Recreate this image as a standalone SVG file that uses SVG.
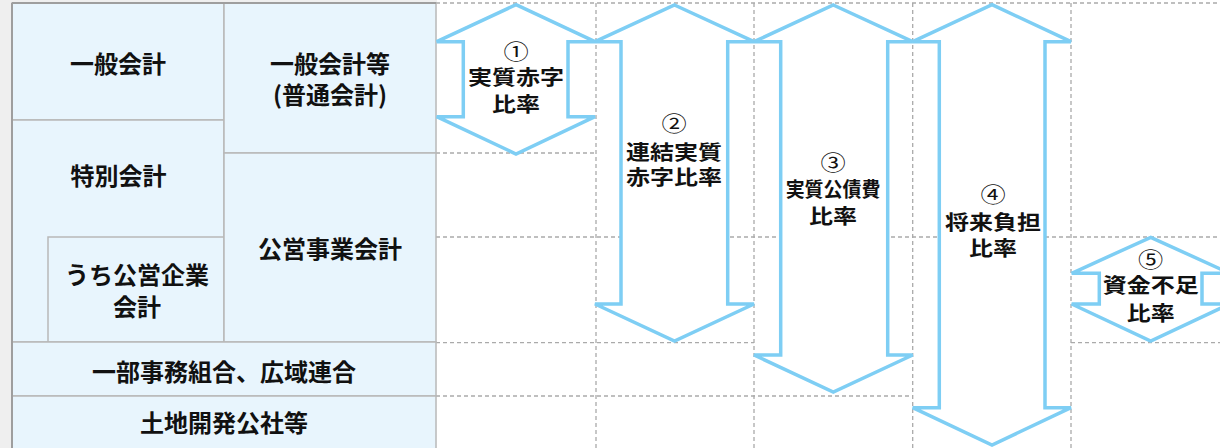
<svg xmlns="http://www.w3.org/2000/svg" width="1220" height="448" viewBox="0 0 1220 448">
<style>
.cell{fill:#e8f5fd;stroke:#b8b8b8;stroke-width:1.5}
.t{font-family:"Noto Sans CJK JP","Noto Sans",sans-serif;font-weight:bold;font-size:24px;fill:#111;text-anchor:middle}
.a{font-family:"Noto Sans CJK JP","Noto Sans",sans-serif;font-weight:bold;font-size:20.5px;fill:#111;text-anchor:middle}
.n{font-family:"Noto Sans CJK JP","Noto Sans",sans-serif;font-weight:normal;font-size:21px;fill:#111;text-anchor:middle}
.grid{stroke:#aaaaaa;stroke-width:1.3;stroke-dasharray:4 3;fill:none}
.arrow{fill:#ffffff;stroke:#7ecef4;stroke-width:3.5;stroke-linejoin:miter}
</style>
<rect x="0" y="0" width="1220" height="448" fill="#ffffff"/>
<rect x="0" y="0" width="12" height="448" fill="#efefef"/>
<rect x="0" y="0" width="437" height="3" fill="#efefef"/>

<g id="grid">
<line class="grid" x1="436" y1="3" x2="1220" y2="3"/>
<line class="grid" x1="436" y1="153" x2="596" y2="153"/>
<line class="grid" x1="436" y1="237" x2="1220" y2="237"/>
<line class="grid" x1="436" y1="342.7" x2="754" y2="342.7"/>
<line class="grid" x1="1071" y1="342.7" x2="1220" y2="342.7"/>
<line class="grid" x1="436" y1="396" x2="912.7" y2="396"/>
<line class="grid" x1="596" y1="3" x2="596" y2="448"/>
<line class="grid" x1="754" y1="3" x2="754" y2="448"/>
<line class="grid" x1="912.7" y1="3" x2="912.7" y2="448"/>
<line class="grid" x1="1071" y1="3" x2="1071" y2="448"/>
</g>

<g id="table">
<g id="ippan-kaikei"><rect class="cell" x="12" y="3" width="212" height="117"/><text class="t" x="118" y="72.5">一般会計</text></g>
<g id="tokubetsu-kaikei"><rect class="cell" x="12" y="120" width="212" height="222"/><text class="t" x="118.5" y="185.3">特別会計</text></g>
<g id="kouei-kigyou"><rect class="cell" x="48" y="237" width="176" height="105"/><text class="t" x="137" y="284">うち公営企業</text><text class="t" x="137" y="315.6">会計</text></g>
<g id="ippan-kaikei-tou"><rect class="cell" x="224" y="3" width="212" height="150"/><text class="t" x="330" y="72.5">一般会計等</text><text class="t" x="330" y="104">(普通会計)</text></g>
<g id="kouei-jigyou"><rect class="cell" x="224" y="153" width="212" height="189"/><text class="t" x="330" y="258">公営事業会計</text></g>
<g id="ichibu-jimu"><rect class="cell" x="12" y="342" width="424" height="54"/><text class="t" x="224" y="381">一部事務組合、広域連合</text></g>
<g id="tochi-kaihatsu"><rect class="cell" x="12" y="396" width="424" height="56"/><text class="t" x="224" y="432">土地開発公社等</text></g>
<line x1="12" y1="3" x2="12" y2="448" stroke="#9e9e9e" stroke-width="2"/>
<line x1="12" y1="3" x2="436" y2="3" stroke="#9e9e9e" stroke-width="2"/>
</g>

<g id="arrows">
<g id="ratio1">
<polygon class="arrow" points="516,4.7 595,41.7 568,41.7 568,116.7 595,116.7 516,154 436.7,116.7 463.3,116.7 463.3,41.7 436.7,41.7"/>
<text class="n" transform="translate(516,58.5) scale(1.2,1)">①</text>
<text class="a" transform="translate(516,84.8) scale(1.17,1)">実質赤字</text>
<text class="a" transform="translate(516,111.8) scale(1.17,1)">比率</text>
</g>
<g id="ratio2">
<polygon class="arrow" points="674.5,5 754,41.7 727.7,41.7 727.7,304 754,304 674.5,341 595,304 621,304 621,41.7 595,41.7"/>
<text class="n" transform="translate(674,131.3) scale(1.2,1)">②</text>
<text class="a" transform="translate(674,159.5) scale(1.17,1)">連結実質</text>
<text class="a" transform="translate(674,184.5) scale(1.17,1)">赤字比率</text>
</g>
<g id="ratio3">
<polygon class="arrow" points="833.3,5 912.7,41.7 887.7,41.7 887.7,355 912.7,355 833.3,392 754,355 780.7,355 780.7,41.7 754,41.7"/>
<text class="n" transform="translate(833,169.7) scale(1.2,1)">③</text>
<text class="a" transform="translate(833,197) scale(1.17,1)" textLength="81" lengthAdjust="spacingAndGlyphs">実質公債費</text>
<text class="a" transform="translate(833,224) scale(1.17,1)">比率</text>
</g>
<g id="ratio4">
<polygon class="arrow" points="992,4.7 1071,41.7 1045,41.7 1045,407.7 1071,407.7 992,445 912.7,407.7 939.3,407.7 939.3,41.7 912.7,41.7"/>
<text class="n" transform="translate(993,202) scale(1.2,1)">④</text>
<text class="a" transform="translate(993,229.8) scale(1.17,1)">将来負担</text>
<text class="a" transform="translate(993,256) scale(1.17,1)">比率</text>
</g>
<g id="ratio5">
<polygon class="arrow" points="1150.7,237.3 1229.7,273.3 1202,273.3 1202,304 1229.7,304 1150.7,341 1071.7,304 1099.3,304 1099.3,273.3 1071.7,273.3"/>
<text class="n" transform="translate(1150.7,267) scale(1.2,1)">⑤</text>
<text class="a" transform="translate(1150.7,293.3) scale(1.17,1)">資金不足</text>
<text class="a" transform="translate(1150.7,320.8) scale(1.17,1)">比率</text>
</g>
</g>
</svg>
